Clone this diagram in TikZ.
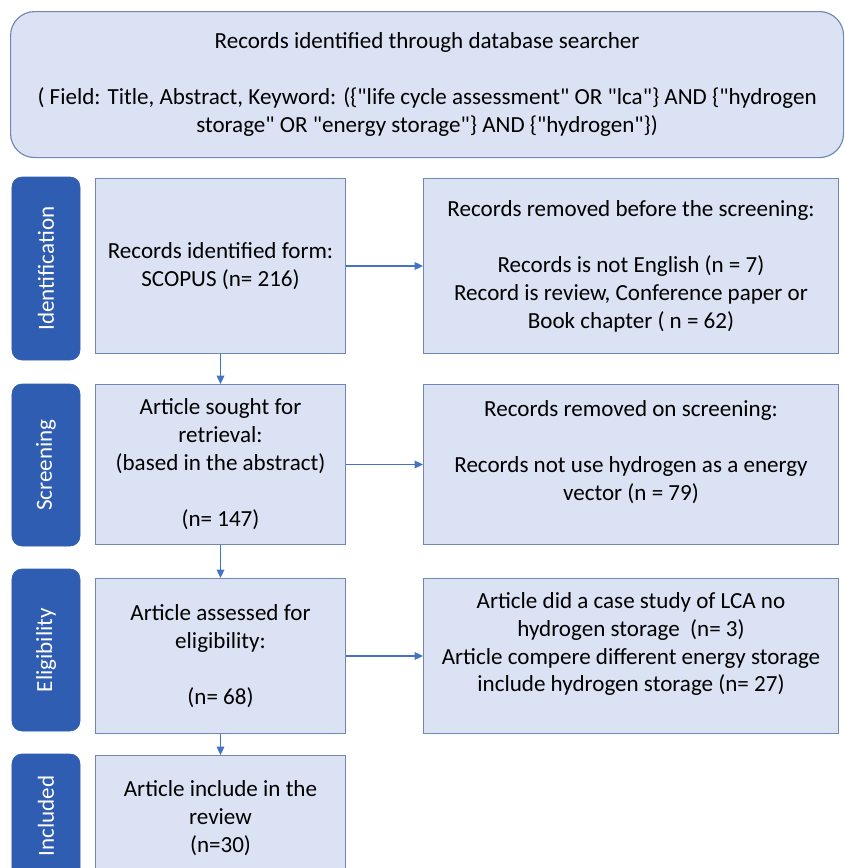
\documentclass[tikz,border=0pt]{standalone}
\usepackage{fontspec}
\setmainfont{Carlito}
\usetikzlibrary{positioning,arrows.meta,calc}
\definecolor{prsBox}{HTML}{DAE2F3}
\definecolor{prsEdge}{HTML}{7186B2}
\definecolor{prsPhase}{HTML}{2F5DB2}
\definecolor{prsFlow}{HTML}{4472C4}
\newcommand{\prsfont}{\fontsize{16.4}{19.9}\selectfont}
\newcommand{\prsgap}{\\[\baselineskip]}
\newcommand{\qq}{\textquotedbl}
\tikzset{
  search/.style={
    draw=prsEdge, line width=0.8pt, fill=prsBox, rounded corners=0.6cm,
    minimum width=20.825cm, minimum height=3.65cm, align=center,
    inner sep=0pt, anchor=north west, font=\prsfont},
  stage/.style={
    draw=prsEdge, line width=0.7pt, fill=prsBox, minimum width=#1,
    align=center, inner sep=0pt, anchor=north west, font=\prsfont},
  stage/.default=6.25cm,
  phase/.style={
    draw=prsPhase, fill=prsPhase, rounded corners=7pt, rotate=90,
    minimum width=#1, minimum height=1.7cm, inner sep=0pt,
    text=white, font=\prsfont},
  flow/.style={draw=prsFlow, line width=0.9pt,
    -{Triangle[length=6pt,width=5.5pt]}},
}

\begin{document}
\begin{tikzpicture}
\useasboundingbox (0,0) rectangle (21.125,-21.7);
\clip (0,0) rectangle (21.125,-21.7);

\node[search] (db) at (0.25,-0.275)
  {Records identified through database searcher\prsgap
   ( Field: Title, Abstract, Keyword: (\{\qq life cycle assessment\qq{} OR \qq lca\qq\} AND \{\qq hydrogen\\
   storage\qq{} OR \qq energy storage\qq\} AND \{\qq hydrogen\qq\})};

\foreach \nm/\yc/\hgt [count=\i] in {%
  Identification/-6.7125/4.575cm,
  Screening/-11.625/4.05cm,
  Eligibility/-16.25/4.05cm,
  Included/-20.4/3.1cm%
} {
  \node[phase=\hgt] (P\i) at (1.15,\yc) {\nm};
}

\node[stage, minimum height=4.375cm] (L1) at (2.375,-4.45)
  {Records identified form:\\SCOPUS (n= 216)};
\node[stage, minimum height=4cm] (L2) at (2.375,-9.6)
  {Article sought for\\retrieval:\\(based in the abstract)\prsgap(n= 147)};
\node[stage, minimum height=3.875cm] (L3) at (2.375,-14.45)
  {Article assessed for\\eligibility:\prsgap(n= 68)};
\node[stage, minimum height=3.125cm] (L4) at (2.375,-18.875)
  {Article include in the\\review\\(n=30)};

\node[stage=10.375cm, minimum height=4.375cm] (R1) at (10.575,-4.45)
  {Records removed before the screening:\prsgap
   Records is not English (n = 7)\\Record is review, Conference paper or\\
   Book chapter ( n = 62)};
\node[stage=10.375cm, minimum height=4cm] (R2) at (10.575,-9.6)
  {Records removed on screening:\prsgap
   Records not use hydrogen as a energy\\vector (n = 79)\\ \mbox{}};
\node[stage=10.375cm, minimum height=3.875cm] (R3) at (10.575,-14.45)
  {Article did a case study of LCA no\\hydrogen storage~ (n= 3)\\
   Article compere different energy storage\\include hydrogen storage (n= 27)\\ \mbox{}};

\foreach \a/\b in {L1/L2, L2/L3, L3/L4}
  \draw[flow] (\a.south) -- (\b.north);
\foreach \i in {1,2,3}
  \draw[flow] (L\i.east) -- (R\i.west);

\end{tikzpicture}
\end{document}
